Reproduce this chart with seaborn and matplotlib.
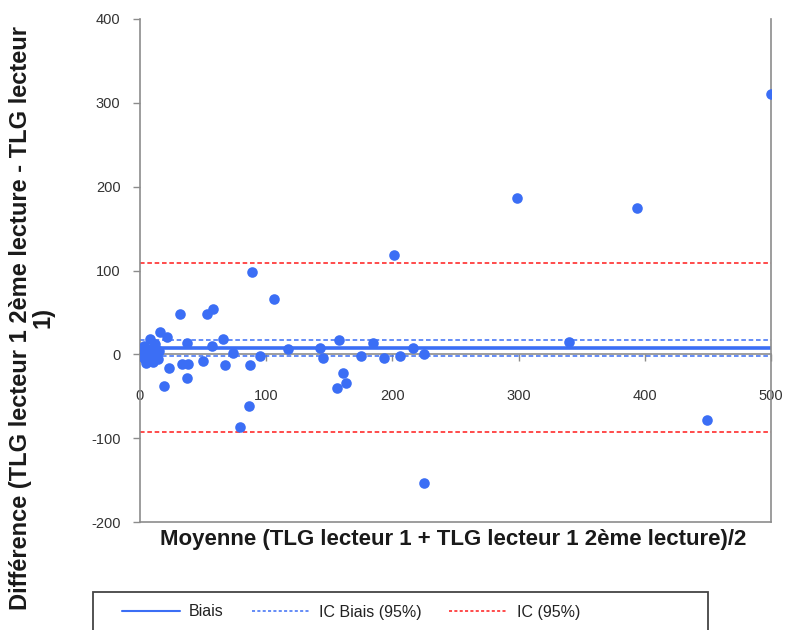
import matplotlib
matplotlib.use("Agg")
import matplotlib.pyplot as plt
import seaborn as sns
import pandas as pd
from matplotlib.lines import Line2D
from matplotlib.patches import Rectangle

sns.set_theme(style="white")
plt.rcParams['font.family'] = ['Liberation Sans', 'DejaVu Sans']
plt.rcParams['axes.unicode_minus'] = False

# ---- data ----
moyenne = [500, 299, 394, 201, 89, 106, 53, 58, 32, 340, 449, 225, 79, 86, 19, 37,
           156, 161, 163, 16, 21, 8,
           66, 57, 74, 50, 67, 87, 117, 95, 33, 38, 23, 37, 143, 145, 158, 175, 185,
           193, 206, 216, 225,
           1, 2, 2, 3, 3, 4, 4, 5, 5, 6, 6, 7, 8, 8, 9, 10, 10, 11, 12, 13, 14, 15, 3, 5, 12]
difference = [310, 187, 174, 118, 98, 66, 48, 54, 48, 15, -78, -154, -87, -62, -38, -28,
              -40, -22, -34, 27, 21, 18,
              18, 10, 2, -8, -13, -13, 6, -2, -12, -12, -16, 14, 8, -4, 17, -2, 14,
              -4, -2, 8, 0,
              0, -2, 3, 1, -4, 5, -6, 2, -1, -8, 4, 0, -3, 6, -5, 2, -9, 8, -2, 0, -6, 4, 10, -10, 12]
biais = 7.5
ic_biais = [-1.8, 16.8]
ic_95 = [-93, 109]
x_ticks = [0, 100, 200, 300, 400, 500]
y_ticks = [-200, -100, 0, 100, 200, 300, 400]

df = pd.DataFrame({"Moyenne": moyenne, "Difference": difference})

blue = '#3B6EF5'
red = '#FF1A1A'
grey = '#8C8C8C'

fig = plt.figure(figsize=(7.85, 6.3), dpi=100)
ax = fig.add_axes([140/785, 1 - 522/630, (771 - 140)/785, (522 - 19)/630])

sns.scatterplot(data=df, x="Moyenne", y="Difference", ax=ax, color=blue, s=58,
                linewidth=0, zorder=3, legend=False)

ax.axhline(biais, color=blue, lw=2.6, ls='-', zorder=2)
for v in ic_biais:
    ax.axhline(v, color=blue, lw=1.1, ls=(0, (3, 1.8)), zorder=2)
for v in ic_95:
    ax.axhline(v, color=red, lw=1.1, ls=(0, (3, 1.8)), zorder=2)

ax.set_xlim(0, 500)
ax.set_ylim(-200, 400)
ax.set_yticks(y_ticks)
ax.set_xticks([])
ax.set_xlabel("")
ax.set_ylabel("")

for s in ['left', 'bottom', 'right']:
    ax.spines[s].set_color(grey)
    ax.spines[s].set_linewidth(1.2)
ax.spines['top'].set_visible(False)

ax.tick_params(axis='y', direction='out', length=5, width=1, color=grey,
               labelsize=10.5, labelcolor='#333333', pad=9, left=True)

# x axis crossing at y = 0
sec = ax.secondary_xaxis(200/600)
sec.set_xticks(x_ticks)
sec.spines['bottom'].set_color(grey)
sec.spines['bottom'].set_linewidth(1.2)
sec.tick_params(axis='x', direction='out', length=5, width=1, color=grey,
                labelsize=10.5, labelcolor='#333333', pad=20)

fig.text(453/785, 1 - 540/630,
         "Moyenne (TLG lecteur 1 + TLG lecteur 1 2ème lecture)/2",
         ha='center', va='center', fontsize=16, fontweight='bold', color='#1a1a1a')
fig.text(32/785, 1 - 318/630,
         "Différence (TLG lecteur 1 2ème lecture - TLG lecteur\n1)",
         ha='center', va='center', rotation=90, fontsize=17, fontweight='bold',
         color='#1a1a1a', multialignment='center', linespacing=0.95)

# legend
handles = [
    Line2D([0], [0], color=blue, lw=1.5, ls='-'),
    Line2D([0], [0], color=blue, lw=1.1, ls=(0, (2, 1.5))),
    Line2D([0], [0], color=red, lw=1.1, ls=(0, (2, 1.5))),
]
labels = ["Biais", "IC Biais (95%)", "IC (95%)"]
leg = fig.legend(handles, labels, loc='center left', ncol=3,
                 bbox_to_anchor=(122/785, 1 - 612/630), frameon=False,
                 fontsize=11.5, handlelength=3.6, columnspacing=1.75, borderpad=0,
                 handletextpad=0.6, borderaxespad=0)
for t in leg.get_texts():
    t.set_color('#222222')
fig.patches.append(Rectangle((93/785, 1 - 640/630), (708 - 93)/785, 48/630,
                             transform=fig.transFigure, fill=False,
                             edgecolor='#444444', linewidth=1.3))

fig.savefig("out.png", dpi=100)
